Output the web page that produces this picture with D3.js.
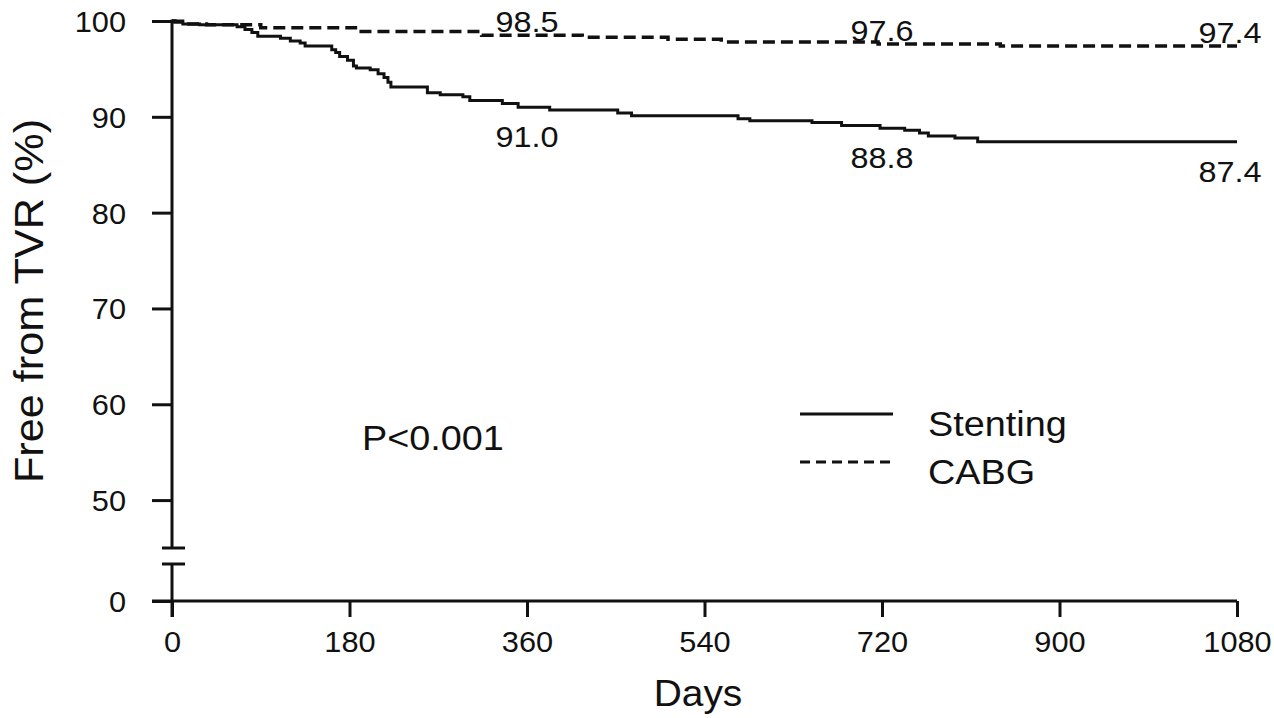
<!DOCTYPE html>
<html>
<head>
<meta charset="utf-8">
<script src="https://cdn.jsdelivr.net/npm/d3@7"></script>
<style>
  html, body { margin: 0; padding: 0; background: #fff; }
  svg { display: block; }
  text { font-family: "Liberation Sans", Arial, sans-serif; fill: #111; }
</style>
</head>
<body>
<svg id="chart" width="1274" height="718"></svg>
<script>
// Kaplan-Meier step data: day of each event and survival (%) after it
const stentDays = [0, 11, 28, 66, 74, 81, 87, 110, 120, 130, 135, 162, 166, 170, 178, 184, 187, 201, 209, 215, 219, 222, 259, 272, 295, 302, 335, 351, 383, 452, 466, 574, 586, 649, 679, 718, 743, 758, 767, 794, 817, 1080];
const stentSurv = [100, 99.7, 99.6, 99.4, 99.1, 98.8, 98.4, 98.2, 97.9, 97.7, 97.4, 97.0, 96.7, 96.3, 95.9, 95.3, 95.1, 94.9, 94.5, 94.1, 93.6, 93.1, 92.5, 92.3, 92.1, 91.7, 91.4, 91.0, 90.7, 90.4, 90.1, 89.8, 89.6, 89.4, 89.1, 88.8, 88.6, 88.3, 88.0, 87.8, 87.4, 87.4];

const cabgDays = [0, 3, 13, 35, 90, 186, 314, 416, 503, 557, 716, 840, 1080];
const cabgSurv = [100, 99.9, 99.7, 99.6, 99.3, 98.9, 98.5, 98.3, 98.1, 97.8, 97.6, 97.4, 97.4];

// Survival at 1, 2 and 3 years
const markDays = [360, 720, 1080];
const stentMarks = [91.0, 88.8, 87.4];
const cabgMarks = [98.5, 97.6, 97.4];

const xTicks = [0, 180, 360, 540, 720, 900, 1080];
const yTicks = [0, 50, 60, 70, 80, 90, 100];

const seriesNames = ["Stenting", "CABG"];

const svg = d3.select("#chart");

// Broken y axis: 0 sits below the break, 45..100 above it
const x = d3.scaleLinear().domain([0, 1080]).range([172, 1237]);
const y = d3.scaleLinear().domain([0, 45, 100]).range([601, 548, 21]);
const breakLow = 564;

const axisColor = "#111";
const axisW = 3;

// x axis
const gx = svg.append("g").attr("transform", `translate(0,${y(0)})`)
  .call(d3.axisBottom(x).tickValues(xTicks).tickFormat(d3.format("d"))
    .tickSize(16).tickSizeOuter(0).tickPadding(7));
gx.select(".domain").remove();
gx.selectAll(".tick line").attr("stroke", axisColor).attr("stroke-width", axisW);
gx.selectAll(".tick text").attr("font-size", 29).attr("dy", "0.95em")
  .style("font-family", '"Liberation Sans", Arial, sans-serif').attr("fill", "#111");
svg.append("line").attr("x1", 152).attr("x2", x(1080)).attr("y1", y(0)).attr("y2", y(0))
  .attr("stroke", axisColor).attr("stroke-width", axisW);

// y axis
const gy = svg.append("g").attr("transform", `translate(${x(0)},0)`)
  .call(d3.axisLeft(y).tickValues(yTicks).tickSize(20).tickSizeOuter(0).tickPadding(26));
gy.select(".domain").remove();
gy.selectAll(".tick line").attr("stroke", axisColor).attr("stroke-width", axisW);
gy.selectAll(".tick text").attr("font-size", 29).attr("dy", "0.36em")
  .style("font-family", '"Liberation Sans", Arial, sans-serif').attr("fill", "#111");

// y axis line, split at the break, with caps on both sides
svg.append("line").attr("x1", x(0)).attr("x2", x(0)).attr("y1", y(100) - 1.5).attr("y2", y(45))
  .attr("stroke", axisColor).attr("stroke-width", axisW);
svg.append("line").attr("x1", x(0)).attr("x2", x(0)).attr("y1", breakLow).attr("y2", y(0) + 16)
  .attr("stroke", axisColor).attr("stroke-width", axisW);
[y(45), breakLow].forEach(v => {
  svg.append("line").attr("x1", 162).attr("x2", 185).attr("y1", v).attr("y2", v)
    .attr("stroke", axisColor).attr("stroke-width", axisW);
});

// axis titles
svg.append("text").attr("x", 698).attr("y", 706).attr("text-anchor", "middle")
  .attr("font-size", 36).text("Days");
svg.append("text").attr("transform", "translate(43,301) rotate(-90)").attr("text-anchor", "middle")
  .attr("font-size", 40).text("Free from TVR (%)");

// survival curves
const line = d3.line().curve(d3.curveStepAfter).x(d => x(d[0])).y(d => y(d[1]));
svg.append("path").datum(cabgDays.map((d, i) => [d, cabgSurv[i]]))
  .attr("d", line).attr("fill", "none").attr("stroke", "#111")
  .attr("stroke-width", 3.5).attr("stroke-dasharray", "12,6");
svg.append("path").datum(stentDays.map((d, i) => [d, stentSurv[i]]))
  .attr("d", line).attr("fill", "none").attr("stroke", "#111").attr("stroke-width", 3);

// value labels at 1, 2, 3 years
const labelX = (d, i) => x(d) - (i === markDays.length - 1 ? 7 : 0);
svg.selectAll(".stentLabel").data(markDays).enter().append("text")
  .attr("x", labelX).attr("y", (d, i) => y(stentMarks[i]) + 40)
  .attr("text-anchor", "middle").attr("font-size", 30)
  .text((d, i) => stentMarks[i].toFixed(1));
svg.selectAll(".cabgLabel").data(markDays).enter().append("text")
  .attr("x", labelX).attr("y", (d, i) => y(cabgMarks[i]) - 3)
  .attr("text-anchor", "middle").attr("font-size", 30)
  .text((d, i) => cabgMarks[i].toFixed(1));

// p value
svg.append("text").attr("x", 362).attr("y", 450).attr("font-size", 35).text("P<0.001");

// legend
const legend = svg.append("g");
seriesNames.forEach((name, i) => {
  const ly = 414 + i * 48;
  legend.append("line").attr("x1", 800).attr("x2", 893).attr("y1", ly).attr("y2", ly)
    .attr("stroke", "#111").attr("stroke-width", 3)
    .attr("stroke-dasharray", i === 0 ? null : "10,6");
  legend.append("text").attr("x", 928).attr("y", ly + 22).attr("font-size", 35).text(name);
});

// number-at-risk header, running off the bottom edge
svg.append("text").attr("x", 18).attr("y", 740).attr("font-size", 30).text("Pts at risk");

// the lettering is set wide: stretch each label along its reading direction
svg.selectAll("text").each(function () {
  const w = this.getComputedTextLength();
  const k = this.closest(".tick") ? 1.06 : 1.08;
  d3.select(this).attr("textLength", w * k).attr("lengthAdjust", "spacingAndGlyphs");
});
</script>
</body>
</html>
